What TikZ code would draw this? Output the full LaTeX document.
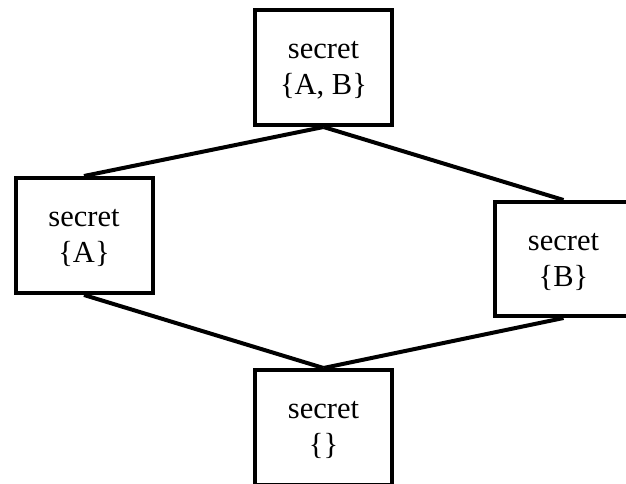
\documentclass[tikz,border=0pt]{standalone}
\usepackage{fontspec}
\setmainfont{Liberation Serif}
\newcommand{\boxlines}[2]{\begin{tabular}{@{}c@{}}\rule{0pt}{29.2pt}#1\\#2\end{tabular}}
\begin{document}
\begin{tikzpicture}[x=1pt,y=1pt,
  lattbox/.style={draw=black, line width=4pt, rectangle, inner sep=0pt,
    minimum width=137pt, minimum height=115pt,
    font=\fontsize{30.5}{36}\selectfont},
  edge/.style={draw=black, line width=4pt}]
\useasboundingbox (0,0) rectangle (626,483);
\clip (0,0) rectangle (626,483);
\fill[white] (0,0) rectangle (626,483);
\node[lattbox] (top) at (323.5,415.5) {\boxlines{secret}{\{A, B\}}};
\node[lattbox] (left) at (84,247.5) {\boxlines{secret}{\{A\}}};
\node[lattbox, minimum height=114pt] (right) at (563.5,224) {\boxlines{secret}{\{B\}}};
\node[lattbox] (bot) at (323.5,55.5) {\boxlines{secret}{\{\}}};
\draw[edge] (top.south) -- (left.north);
\draw[edge] (top.south) -- (right.north);
\draw[edge] (left.south) -- (bot.north);
\draw[edge] (right.south) -- (bot.north);
\end{tikzpicture}
\end{document}
